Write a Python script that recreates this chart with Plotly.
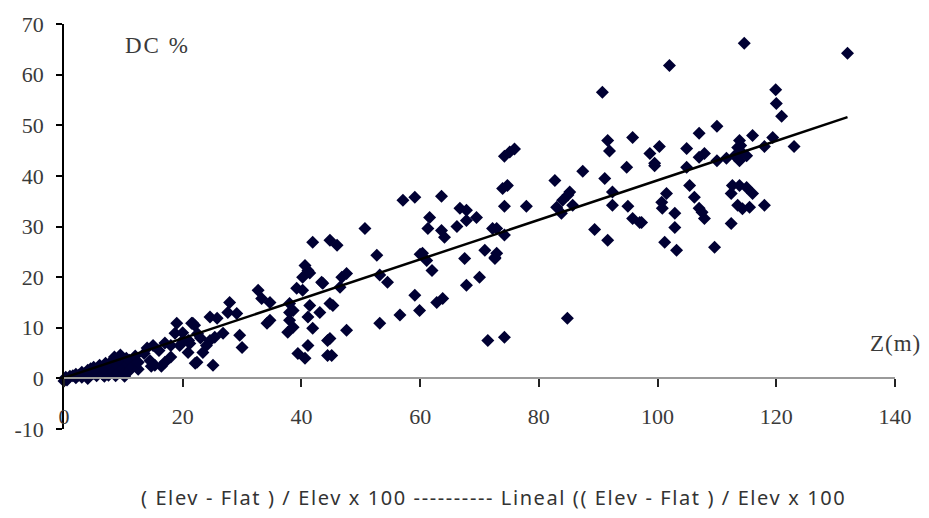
import plotly.graph_objects as go

# ---- data ----
z_m = [
    0, 0.3, 0.5, 1, 1.5, 2, 2.5, 3, 3.5, 4, 4.2, 4.5, 5, 5, 5.5, 6, 6, 6.5, 7, 7, 7.5, 8, 8, 8.2, 8.5, 9, 9, 9,
    9.5, 9.8, 10, 10, 10.5, 10.8, 11, 11, 11.5, 12, 12.3, 12.5, 3, 6.8, 4, 2, 8.7, 10.2,
    13.5, 14, 14.5, 15, 15.3, 16, 16.4, 17, 17, 18, 18, 18.7, 19, 19.5, 20, 20.9, 21.5, 22, 22.4, 21.2, 23.4,
    22.1, 25.1, 14.7, 12.5, 20, 23, 21, 24, 22.5,
    24.6, 25.8, 21.7, 26.8, 25.4, 24.6, 29.6, 30, 27.9, 27.6, 29.1, 32.7, 33.3, 34.7, 34.7, 34.2, 38, 38, 38.6,
    38, 38.6, 37.7, 39.2, 40.2, 41.4, 41.1, 43.1, 41.9, 45.3, 43.6, 40.6, 41.1, 40.2, 41.4, 41.9, 44.8, 46,
    41.1, 39.4, 40.6, 44.4, 44.4, 43.4, 46.5, 46.8, 47.6, 44.8, 47.6, 44.8, 45.1,
    50.7, 52.7, 53.2, 54.5, 57.1, 59.1, 63.6, 66.7, 67.8, 67.8, 69.5, 61.6, 61.3, 63.6, 64.1, 66.2, 72.9,
    60.4, 61.1, 62, 60, 67.5, 70.9, 72.6, 70, 67.8, 59.1, 59.9, 62.8, 63.8, 56.6, 53.2, 71.4, 74.2, 84.8,
    75.1, 75.9, 74.2, 90.7, 91.6, 91.9, 95.8, 94.8, 98.7, 87.4, 82.7, 91.1, 92.4, 92.4, 95, 95.8, 97,
    74.7, 73.9, 74.2, 77.9, 84, 85.2, 83, 83.8, 85.7, 84.9, 72.2, 74.2, 72.9, 72.6, 89.4, 91.6,
    102, 114.6, 132, 119.9, 120, 120.9, 123, 110, 107, 116, 119.4, 113.8, 113.5, 114.3, 100.3, 99.5, 104.9,
    107.9, 107, 104.9, 110, 111.6, 113.8, 115, 118, 105.4, 106.2, 101.5, 100.7, 100.8, 102.9, 102.9, 107,
    107.9, 107.5, 112.6, 113.8, 112.4, 115, 116, 113.5, 114.3, 115.5, 118, 112.4, 97.3, 101.2, 103.2, 109.6,
    99.5, 114, 113,
]
dc_pct = [
    -0.5, 0.2, -0.3, 0.4, 0.5, 0.8, 0.6, 1.2, 0.9, 1.6, 0.8, 1.9, 2.2, 1.0, 0.5, 2.6, 1.4, 0.8, 3.0, 1.8, 0.6,
    3.4, 2.3, 1.2, 4.2, 3.8, 2.6, 1.0, 4.6, 3.2, 2.0, 0.9, 4.0, 2.8, 1.5, 3.6, 2.3, 4.4, 3.0, 1.8, 0.2, 0.4,
    0.0, 0.1, 0.5, 0.4,
    4.9, 6.0, 3.5, 6.5, 2.6, 5.5, 2.4, 3.2, 7.0, 4.2, 6.5, 8.9, 10.9, 6.5, 7.5, 5.1, 10.9, 10.5, 3.2, 6.9,
    5.1, 3.0, 2.6, 2.4, 3.2, 9.0, 8.0, 7.5, 6.5, 8.8,
    12.1, 11.9, 10.9, 8.9, 8.1, 7.5, 8.5, 6.1, 15, 13, 12.8, 17.4, 15.8, 15, 11.5, 10.9, 14.8, 13, 13.4,
    11.5, 10.1, 9.1, 17.8, 17.4, 14.4, 12.1, 13, 9.9, 14.4, 18.8, 22.3, 21.3, 20, 20.8, 26.9, 27.3, 26.3,
    6.5, 4.9, 4, 7.5, 4.5, 19, 18, 20, 20.7, 14.8, 9.5, 7.9, 4.5,
    29.6, 24.3, 20.4, 19, 35.2, 35.8, 36, 33.6, 33.2, 31.2, 31.8, 31.8, 29.6, 29.2, 27.9, 30, 29.6,
    24.7, 23.3, 21.3, 24.5, 23.7, 25.3, 23.9, 20, 18.4, 16.4, 13.4, 15, 15.8, 12.5, 10.9, 7.5, 8.1, 11.9,
    44.7, 45.3, 43.9, 56.5, 47, 44.9, 47.6, 41.7, 44.4, 40.9, 39.1, 39.5, 36.8, 34.2, 34, 31.6, 30.8,
    38.1, 37.5, 34, 34, 35.2, 36.8, 33.8, 32.6, 34.2, 36.2, 29.6, 28.3, 24.7, 23.7, 29.4, 27.3,
    61.8, 66.2, 64.2, 57, 54.3, 51.8, 45.8, 49.8, 48.4, 48, 47.6, 47, 45.6, 44.5, 45.8, 42, 45.4,
    44.4, 43.7, 41.7, 43, 43.5, 43, 44, 45.8, 38.1, 35.8, 36.5, 34.8, 33.6, 32.6, 29.8, 33.6,
    31.6, 32.8, 38.1, 38.1, 36.5, 37.7, 36.5, 34.2, 33.5, 33.8, 34.2, 30.6, 30.8, 26.9, 25.3, 25.9,
    42.5, 46, 44,
]
trend_x = [0, 132]
trend_y = [0.1, 51.6]

x_ticks = [0, 20, 40, 60, 80, 100, 120, 140]
y_ticks = [-10, 0, 10, 20, 30, 40, 50, 60, 70]

series_name = "( Elev - Flat ) / Elev x 100"
trend_name = "Lineal (( Elev - Flat ) / Elev x 100"

tick_font = dict(family="Liberation Serif", size=22, color="#3a3a3a")

fig = go.Figure()
fig.add_trace(go.Scatter(
    x=z_m, y=dc_pct, mode="markers", name=series_name,
    marker=dict(symbol="diamond", size=10, color="#000033"),
    cliponaxis=False,
))
fig.add_trace(go.Scatter(
    x=trend_x, y=trend_y, mode="lines", name=trend_name,
    line=dict(color="black", width=2.5),
))

fig.update_layout(
    width=929, height=518,
    margin=dict(l=64, r=34, t=24, b=89),
    paper_bgcolor="white", plot_bgcolor="white",
    showlegend=False,
    xaxis=dict(
        range=[0, 140], tickvals=x_ticks, ticktext=[str(v) for v in x_ticks],
        anchor="free", position=0.125,
        showline=True, linecolor="#9a9a9a", linewidth=1.5,
        ticks="outside", ticklen=8, tickcolor="#222", tickwidth=1.5,
        ticklabelstandoff=10,
        showgrid=False, zeroline=False, tickfont=tick_font,
    ),
    yaxis=dict(
        range=[-10, 70], tickvals=y_ticks, ticktext=[str(v) for v in y_ticks],
        showline=True, linecolor="black", linewidth=1.5,
        ticks="outside", ticklen=6, tickcolor="black", tickwidth=1.5,
        ticklabelstandoff=8,
        showgrid=False, zeroline=False, tickfont=tick_font,
    ),
    annotations=[
        dict(text="<span style='letter-spacing:2px'>DC %</span>", x=15.7, y=65.8, xref="x", yref="y",
             showarrow=False,
             font=dict(family="Liberation Serif", size=23, color="#3a3a3a")),
        dict(text="<span style='letter-spacing:1px'>Z(m)</span>", x=1.001, y=0.21, xref="paper", yref="paper",
             showarrow=False, xanchor="center", yanchor="middle",
             font=dict(family="Liberation Serif", size=23, color="#3a3a3a")),
        dict(text="<span style='letter-spacing:1.6px'>" + series_name + " ---------- " + trend_name + "</span>",
             x=0.517, y=-0.168, xref="paper", yref="paper", showarrow=False,
             xanchor="center", yanchor="middle",
             font=dict(family="Noto Sans", size=20, color="#333")),
    ],
)

fig.write_html("out.html")
